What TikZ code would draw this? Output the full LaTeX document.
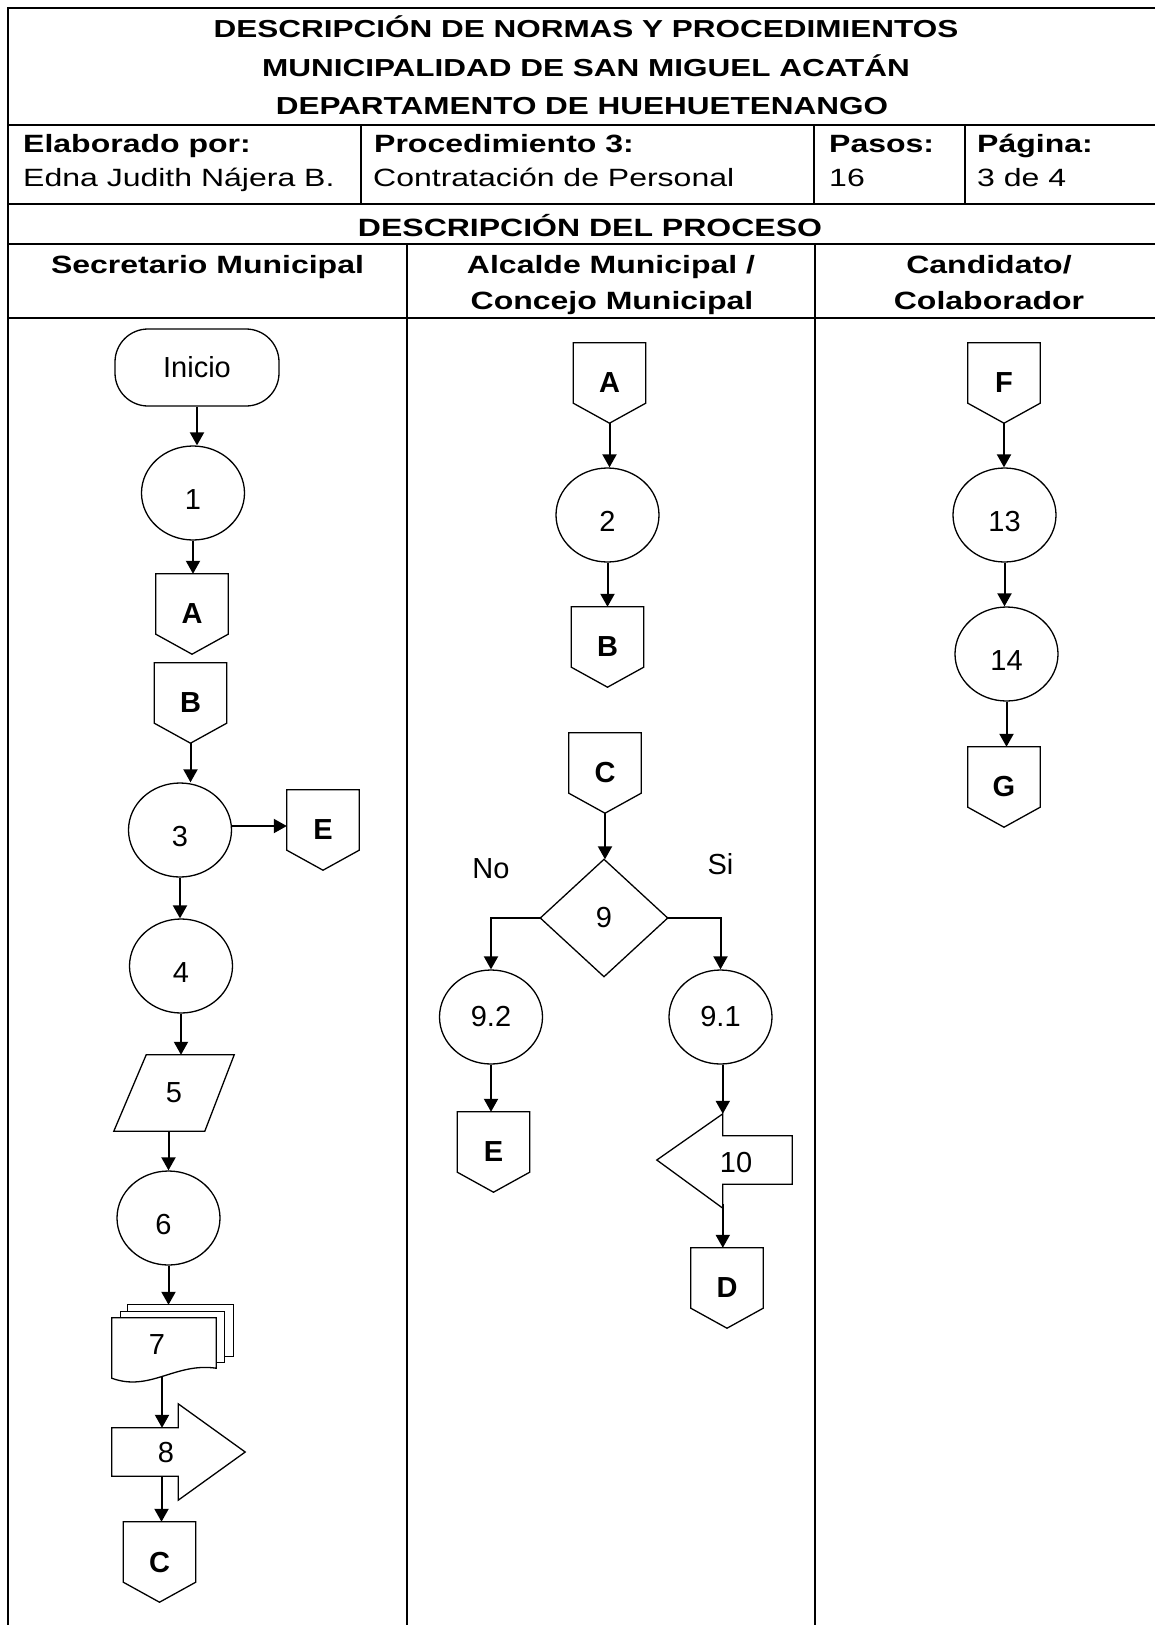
\documentclass[tikz,border=0pt]{standalone}
\usepackage{fontspec}
\setmainfont{Liberation Sans}
\newfontfamily\headfont{Liberation Sans}[FakeStretch=1.28]
\usetikzlibrary{arrows.meta,shapes.geometric}
\begin{document}
\begin{tikzpicture}[x=1pt,y=-1pt,
  frame/.style={line width=2.6pt},
  titletext/.style={font=\headfont\bfseries\fontsize{24.6}{29}\selectfont, inner sep=0pt},
  hdbold/.style={font=\headfont\bfseries\fontsize{25}{29}\selectfont, inner sep=0pt},
  hdreg/.style={font=\headfont\fontsize{25}{29}\selectfont, inner sep=0pt},
  shapeline/.style={line width=1.3pt, line join=miter},
  steptext/.style={font=\fontsize{29}{34}\selectfont, inner sep=0pt},
  arr/.style={line width=2pt, -{Triangle[length=13pt,width=14pt]}},
  proc/.style={ellipse, draw, shapeline, minimum width=103pt, minimum height=94pt, steptext},
  lowtext/.style={text height=33pt, text depth=0pt},
  term/.style={rectangle, draw, shapeline, rounded corners=33pt, minimum width=164pt, minimum height=77pt, steptext},
  offpage/.style={rectangle, minimum width=72pt, minimum height=80pt, inner sep=0pt,
    font=\bfseries\fontsize{29}{34}\selectfont,
    append after command={\pgfextra{\let\offpgnode\tikzlastnode
      \draw[shapeline] (\offpgnode.north west) -- (\offpgnode.north east)
        -- ([yshift=20pt]\offpgnode.south east) -- (\offpgnode.south)
        -- ([yshift=20pt]\offpgnode.south west) -- cycle;}}},
  para/.style={rectangle, minimum width=120pt, minimum height=76pt, steptext,
    append after command={\pgfextra{\let\paranode\tikzlastnode
      \draw[shapeline] (\paranode.south west) -- ([xshift=91pt]\paranode.south west)
        -- (\paranode.north east) -- ([xshift=-88pt]\paranode.north east) -- cycle;}}},
  decision/.style={rectangle, minimum width=127pt, minimum height=117pt, steptext,
    append after command={\pgfextra{\let\decnode\tikzlastnode
      \draw[shapeline] (\decnode.north) -- (\decnode.east) -- (\decnode.south)
        -- (\decnode.west) -- cycle;}}},
  docstack/.style={rectangle, minimum width=104pt, minimum height=54pt, steptext,
    append after command={\pgfextra{\let\docnode\tikzlastnode
      % sheet at the back
      \draw[shapeline] ([xshift=16pt,yshift=6.5pt]\docnode.north west)
        -- ([xshift=16pt,yshift=13pt]\docnode.north west)
        -- ([xshift=17pt,yshift=13pt]\docnode.north east)
        -- ([xshift=17pt,yshift=16pt]\docnode.south east)
        -- ([xshift=8pt,yshift=16pt]\docnode.south east);
      % middle sheet
      \draw[shapeline] ([xshift=9pt]\docnode.north west)
        -- ([xshift=9pt,yshift=6.5pt]\docnode.north west)
        -- ([xshift=8pt,yshift=6.5pt]\docnode.north east)
        -- ([xshift=8pt,yshift=10pt]\docnode.south east)
        -- ([yshift=10pt]\docnode.south east);
      % front sheet with wavy bottom
      \draw[shapeline] (\docnode.north west) -- (\docnode.north east)
        -- ([yshift=4pt]\docnode.south east)
        .. controls ([xshift=-41pt,yshift=10pt]\docnode.south east)
        and ([xshift=38pt,yshift=-20pt]\docnode.south west)
        .. ([yshift=-6pt]\docnode.south west) -- cycle;}}},
  arrowright/.style={rectangle, minimum width=66pt, minimum height=48pt, inner sep=0pt,
    append after command={\pgfextra{\let\arnode\tikzlastnode
      \draw[shapeline] (\arnode.north east) -- (\arnode.north west) -- (\arnode.south west)
        -- (\arnode.south east) -- ([yshift=-24pt]\arnode.south east)
        -- ([xshift=67pt]\arnode.east) -- ([yshift=24pt]\arnode.north east) -- cycle;}}},
  arrowleft/.style={rectangle, minimum width=69pt, minimum height=48pt, inner sep=0pt,
    append after command={\pgfextra{\let\alnode\tikzlastnode
      \draw[shapeline] (\alnode.north west) -- (\alnode.north east) -- (\alnode.south east)
        -- (\alnode.south west) -- ([yshift=-24pt]\alnode.south west)
        -- ([xshift=-66pt]\alnode.west) -- ([yshift=22pt]\alnode.north west) -- cycle;}}}
]
\useasboundingbox (0,0) rectangle (1155,1625);

% ---------- table frame ----------
\draw[frame] (8,1630) -- (8,8) -- (1160,8);
\draw[frame] (8,125) -- (1160,125);
\draw[frame] (8,204) -- (1160,204);
\draw[frame] (8,244) -- (1160,244);
\draw[frame] (8,318) -- (1160,318);
\draw[frame] (361,125) -- (361,204);
\draw[frame] (814,125) -- (814,204);
\draw[frame] (965,125) -- (965,204);
\draw[frame] (407,244) -- (407,1630);
\draw[frame] (815,244) -- (815,1630);

% ---------- header texts ----------
\node[titletext, anchor=base] (t1) at (586,37.5) {DESCRIPCIÓN DE NORMAS Y PROCEDIMIENTOS};
\node[titletext, anchor=base] (t2) at (586,76.5) {MUNICIPALIDAD DE SAN MIGUEL ACATÁN};
\node[titletext, anchor=base] (t3) at (582,114.5) {DEPARTAMENTO DE HUEHUETENANGO};

\node[hdbold, anchor=base west] (h1) at (23,152.5) {Elaborado por:};
\node[hdreg,  anchor=base west] (v1) at (23,186) {Edna Judith Nájera B.};
\node[hdbold, anchor=base west] (h2) at (374,152.5) {Procedimiento 3:};
\node[hdreg,  anchor=base west] (v2) at (373,186) {Contratación de Personal};
\node[hdbold, anchor=base west] (h3) at (829,152.5) {Pasos:};
\node[hdreg,  anchor=base west] (v3) at (829,186) {16};
\node[hdbold, anchor=base west] (h4) at (977,152.5) {Página:};
\node[hdreg,  anchor=base west] (v4) at (977,186) {3 de 4};

\node[hdbold, anchor=base] (proc) at (590,236) {DESCRIPCIÓN DEL PROCESO};

\node[hdbold, anchor=base] (lane1) at (207.5,273) {Secretario Municipal};
\node[hdbold, anchor=base] (lane2a) at (611,273) {Alcalde Municipal /};
\node[hdbold, anchor=base] (lane2b) at (612,309) {Concejo Municipal};
\node[hdbold, anchor=base] (lane3a) at (989,273) {Candidato/};
\node[hdbold, anchor=base] (lane3b) at (989,309) {Colaborador};

% ---------- lane 1: Secretario Municipal ----------
\node[term] (ini) at (197,367.5) {Inicio};
\node[proc, lowtext] (c1) at (193,493) {1};
\node[offpage] (A1) at (192,614) {A};
\node[offpage] (B1) at (190.5,703) {B};
\node[proc, lowtext] (c3) at (180,830) {3};
\node[offpage] (E1) at (323,830) {E};
\node[proc, lowtext] (c4) at (181,966) {4};
\node[para] (p5) at (174,1093) {5};
\node[proc, lowtext] (c6) at (168.5,1218) {\hspace*{-10pt}6};
\node[docstack] (d7) at (164,1345) {\hspace*{-14pt}7};
\node[arrowright] (s8) at (145,1452) {};
\node[steptext] (s8t) at ([xshift=21pt]s8.center) {8};
\node[offpage] (C1) at (159.5,1562) {C};

\coordinate (d7top) at ([yshift=13pt]d7.north);

\draw[arr] (ini.south) -- (ini.south |- c1.north);
\draw[arr] (c1.south) -- (c1.south |- A1.north);
\draw[arr] (B1.south) -- (B1.south |- c3.north);
\draw[arr] ([yshift=4pt]c3.east) -- ([yshift=4pt]c3.east -| E1.west);
\draw[arr] (c3.south) -- (c3.south |- c4.north);
\draw[arr] (c4.south) -- (c4.south |- p5.north);
\draw[arr] (c6.north |- p5.south) -- (c6.north);
\draw[arr] (c6.south) -- (c6.south |- d7top);
\draw[arr] ([xshift=-2pt,yshift=-4pt]d7.south) -- ([xshift=-2pt]d7.south |- s8.north);
\draw[arr] ([xshift=2pt]C1.north |- s8.south) -- ([xshift=2pt]C1.north);

% ---------- lane 2: Alcalde / Concejo Municipal ----------
\node[offpage] (A2) at (609.5,383) {A};
\node[proc, lowtext] (c2) at (607.5,515) {2};
\node[offpage] (B2) at (607.5,647) {B};
\node[offpage] (C2) at (605,773) {C};
\node[decision] (d9) at (604,918) {9};
\node[steptext] (lno) at (491,869) {No};
\node[steptext] (lsi) at (720.5,864.5) {Si};
\node[proc] (c92) at (491,1017) {9.2};
\node[proc] (c91) at (720.5,1017) {9.1};
\node[offpage] (E2) at (493.5,1152) {E};
\node[arrowleft] (s10) at (757.5,1160) {};
\node[steptext] (s10t) at ([xshift=-21.5pt,yshift=-3pt]s10.center) {10};
\node[offpage] (D2) at (727,1288) {D};

\coordinate (s10hd) at ([yshift=22pt]s10.north west);
\coordinate (s10hb) at ([yshift=-24pt]s10.south west);

\draw[arr] (A2.south) -- (A2.south |- c2.north);
\draw[arr] (c2.south) -- (c2.south |- B2.north);
\draw[arr] (C2.south) -- (C2.south |- d9.north);
\draw[arr] (d9.west) -| (c92.north);
\draw[arr] (d9.east) -| (c91.north);
\draw[arr] (c92.south) -- (c92.south |- E2.north);
\draw[arr] (s10hd |- c91.south) -- (s10hd);
\draw[arr] ([yshift=4pt]s10hb) -- (s10hb |- D2.north);

% ---------- lane 3: Candidato / Colaborador ----------
\node[offpage] (F3) at (1004,383) {F};
\node[proc, lowtext] (c13) at (1004.5,515) {13};
\node[proc, lowtext] (c14) at (1006.5,654) {14};
\node[offpage] (G3) at (1004,787) {G};

\draw[arr] (F3.south) -- (F3.south |- c13.north);
\draw[arr] (c13.south) -- (c13.south |- c14.north);
\draw[arr] (c14.south) -- (c14.south |- G3.north);

\end{tikzpicture}
\end{document}
